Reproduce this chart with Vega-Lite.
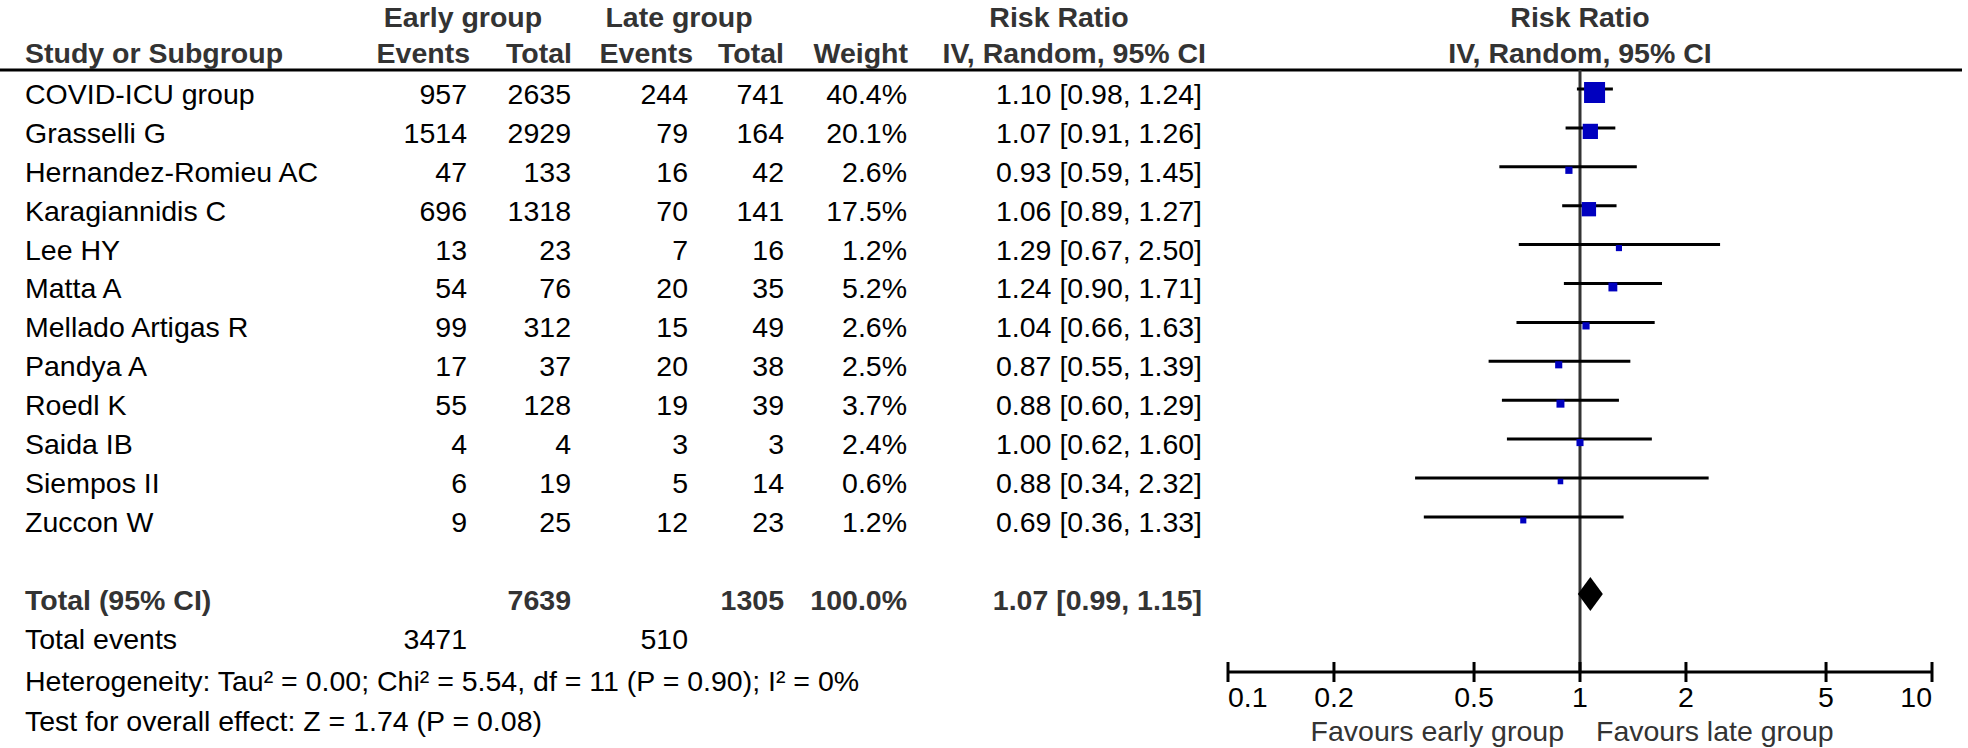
{
  "$schema": "https://vega.github.io/schema/vega-lite/v6.json",
  "width": 1968,
  "height": 748,
  "autosize": "none",
  "padding": 0,
  "background": "white",
  "config": {
    "view": {"stroke": null},
    "axis": {"disable": true},
    "font": "Liberation Sans",
    "text": {"font": "Liberation Sans", "fontSize": 28.5, "baseline": "middle", "color": "#000000"}
  },
  "datasets": {
    "studies": [
      {"study": "COVID-ICU group", "e_ev": 957, "e_tot": 2635, "l_ev": 244, "l_tot": 741, "weight": 0.404, "rr": 1.10, "lo": 0.98, "hi": 1.24},
      {"study": "Grasselli G", "e_ev": 1514, "e_tot": 2929, "l_ev": 79, "l_tot": 164, "weight": 0.201, "rr": 1.07, "lo": 0.91, "hi": 1.26},
      {"study": "Hernandez-Romieu AC", "e_ev": 47, "e_tot": 133, "l_ev": 16, "l_tot": 42, "weight": 0.026, "rr": 0.93, "lo": 0.59, "hi": 1.45},
      {"study": "Karagiannidis C", "e_ev": 696, "e_tot": 1318, "l_ev": 70, "l_tot": 141, "weight": 0.175, "rr": 1.06, "lo": 0.89, "hi": 1.27},
      {"study": "Lee HY", "e_ev": 13, "e_tot": 23, "l_ev": 7, "l_tot": 16, "weight": 0.012, "rr": 1.29, "lo": 0.67, "hi": 2.50},
      {"study": "Matta A", "e_ev": 54, "e_tot": 76, "l_ev": 20, "l_tot": 35, "weight": 0.052, "rr": 1.24, "lo": 0.90, "hi": 1.71},
      {"study": "Mellado Artigas R", "e_ev": 99, "e_tot": 312, "l_ev": 15, "l_tot": 49, "weight": 0.026, "rr": 1.04, "lo": 0.66, "hi": 1.63},
      {"study": "Pandya A", "e_ev": 17, "e_tot": 37, "l_ev": 20, "l_tot": 38, "weight": 0.025, "rr": 0.87, "lo": 0.55, "hi": 1.39},
      {"study": "Roedl K", "e_ev": 55, "e_tot": 128, "l_ev": 19, "l_tot": 39, "weight": 0.037, "rr": 0.88, "lo": 0.60, "hi": 1.29},
      {"study": "Saida IB", "e_ev": 4, "e_tot": 4, "l_ev": 3, "l_tot": 3, "weight": 0.024, "rr": 1.00, "lo": 0.62, "hi": 1.60},
      {"study": "Siempos II", "e_ev": 6, "e_tot": 19, "l_ev": 5, "l_tot": 14, "weight": 0.006, "rr": 0.88, "lo": 0.34, "hi": 2.32},
      {"study": "Zuccon W", "e_ev": 9, "e_tot": 25, "l_ev": 12, "l_tot": 23, "weight": 0.012, "rr": 0.69, "lo": 0.36, "hi": 1.33}
    ],
    "total": [
      {"study": "Total (95% CI)", "e_ev": 3471, "e_tot": 7639, "l_ev": 510, "l_tot": 1305, "weight": 1.0, "rr": 1.07, "lo": 0.99, "hi": 1.15}
    ],
    "ticks": [{"t": 0.1}, {"t": 0.2}, {"t": 0.5}, {"t": 1}, {"t": 2}, {"t": 5}, {"t": 10}],
    "one": [{}]
  },
  "resolve": {"scale": {"x": "independent"}},
  "layer": [
    {
      "layer": [
        {
          "data": {"name": "one"},
          "mark": {"type": "rule", "strokeWidth": 3, "color": "#000000"},
          "encoding": {
            "x": {"datum": -1, "scale": {"domain": [-1, 0, 1, 2, 3, 4, 5, 6, 7], "range": [0, 25, 467, 571, 688, 784, 907, 1202, 1962], "zero": false, "nice": false}},
            "x2": {"datum": 7},
            "y": {"datum": 0.357, "scale": {"domain": [-1.442, 17.787], "reverse": true, "zero": false, "nice": false}}
          }
        },
        {
          "data": {"name": "studies"},
          "transform": [{"window": [{"op": "row_number", "as": "row"}]}],
          "mark": {"type": "text", "align": "left"},
          "encoding": {
            "x": {"datum": 0, "scale": {"domain": [-1, 0, 1, 2, 3, 4, 5, 6, 7], "range": [0, 25, 467, 571, 688, 784, 907, 1202, 1962], "zero": false, "nice": false}},
            "y": {"field": "row", "type": "quantitative", "scale": {"domain": [-1.442, 17.787], "reverse": true, "zero": false, "nice": false}},
            "text": {"field": "study"}
          }
        },
        {
          "data": {"name": "studies"},
          "transform": [{"window": [{"op": "row_number", "as": "row"}]}],
          "mark": {"type": "text", "align": "right"},
          "encoding": {
            "x": {"datum": 1, "scale": {"domain": [-1, 0, 1, 2, 3, 4, 5, 6, 7], "range": [0, 25, 467, 571, 688, 784, 907, 1202, 1962], "zero": false, "nice": false}},
            "y": {"field": "row", "type": "quantitative", "scale": {"domain": [-1.442, 17.787], "reverse": true, "zero": false, "nice": false}},
            "text": {"field": "e_ev", "type": "quantitative", "format": "d"}
          }
        },
        {
          "data": {"name": "studies"},
          "transform": [{"window": [{"op": "row_number", "as": "row"}]}],
          "mark": {"type": "text", "align": "right"},
          "encoding": {
            "x": {"datum": 2, "scale": {"domain": [-1, 0, 1, 2, 3, 4, 5, 6, 7], "range": [0, 25, 467, 571, 688, 784, 907, 1202, 1962], "zero": false, "nice": false}},
            "y": {"field": "row", "type": "quantitative", "scale": {"domain": [-1.442, 17.787], "reverse": true, "zero": false, "nice": false}},
            "text": {"field": "e_tot", "type": "quantitative", "format": "d"}
          }
        },
        {
          "data": {"name": "studies"},
          "transform": [{"window": [{"op": "row_number", "as": "row"}]}],
          "mark": {"type": "text", "align": "right"},
          "encoding": {
            "x": {"datum": 3, "scale": {"domain": [-1, 0, 1, 2, 3, 4, 5, 6, 7], "range": [0, 25, 467, 571, 688, 784, 907, 1202, 1962], "zero": false, "nice": false}},
            "y": {"field": "row", "type": "quantitative", "scale": {"domain": [-1.442, 17.787], "reverse": true, "zero": false, "nice": false}},
            "text": {"field": "l_ev", "type": "quantitative", "format": "d"}
          }
        },
        {
          "data": {"name": "studies"},
          "transform": [{"window": [{"op": "row_number", "as": "row"}]}],
          "mark": {"type": "text", "align": "right"},
          "encoding": {
            "x": {"datum": 4, "scale": {"domain": [-1, 0, 1, 2, 3, 4, 5, 6, 7], "range": [0, 25, 467, 571, 688, 784, 907, 1202, 1962], "zero": false, "nice": false}},
            "y": {"field": "row", "type": "quantitative", "scale": {"domain": [-1.442, 17.787], "reverse": true, "zero": false, "nice": false}},
            "text": {"field": "l_tot", "type": "quantitative", "format": "d"}
          }
        },
        {
          "data": {"name": "studies"},
          "transform": [{"window": [{"op": "row_number", "as": "row"}]}],
          "mark": {"type": "text", "align": "right"},
          "encoding": {
            "x": {"datum": 5, "scale": {"domain": [-1, 0, 1, 2, 3, 4, 5, 6, 7], "range": [0, 25, 467, 571, 688, 784, 907, 1202, 1962], "zero": false, "nice": false}},
            "y": {"field": "row", "type": "quantitative", "scale": {"domain": [-1.442, 17.787], "reverse": true, "zero": false, "nice": false}},
            "text": {"field": "weight", "type": "quantitative", "format": ".1%"}
          }
        },
        {
          "data": {"name": "studies"},
          "transform": [
            {"window": [{"op": "row_number", "as": "row"}]},
            {"calculate": "format(datum.rr, '.2f') + ' [' + format(datum.lo, '.2f') + ', ' + format(datum.hi, '.2f') + ']'", "as": "ci"}
          ],
          "mark": {"type": "text", "align": "right"},
          "encoding": {
            "x": {"datum": 6, "scale": {"domain": [-1, 0, 1, 2, 3, 4, 5, 6, 7], "range": [0, 25, 467, 571, 688, 784, 907, 1202, 1962], "zero": false, "nice": false}},
            "y": {"field": "row", "type": "quantitative", "scale": {"domain": [-1.442, 17.787], "reverse": true, "zero": false, "nice": false}},
            "text": {"field": "ci"}
          }
        },
        {
          "data": {"name": "one"},
          "mark": {"type": "text", "align": "center", "fontWeight": "bold", "color": "#333333", "dx": -4},
          "encoding": {
            "x": {"datum": 1, "scale": {"domain": [-1, 0, 1, 2, 3, 4, 5, 6, 7], "range": [0, 25, 467, 571, 688, 784, 907, 1202, 1962], "zero": false, "nice": false}},
            "y": {"datum": -0.979, "scale": {"domain": [-1.442, 17.787], "reverse": true, "zero": false, "nice": false}},
            "text": {"value": "Early group"}
          }
        },
        {
          "data": {"name": "one"},
          "mark": {"type": "text", "align": "center", "fontWeight": "bold", "color": "#333333", "dx": -9},
          "encoding": {
            "x": {"datum": 3, "scale": {"domain": [-1, 0, 1, 2, 3, 4, 5, 6, 7], "range": [0, 25, 467, 571, 688, 784, 907, 1202, 1962], "zero": false, "nice": false}},
            "y": {"datum": -0.979, "scale": {"domain": [-1.442, 17.787], "reverse": true, "zero": false, "nice": false}},
            "text": {"value": "Late group"}
          }
        },
        {
          "data": {"name": "one"},
          "mark": {"type": "text", "align": "center", "fontWeight": "bold", "color": "#333333", "dx": -143},
          "encoding": {
            "x": {"datum": 6, "scale": {"domain": [-1, 0, 1, 2, 3, 4, 5, 6, 7], "range": [0, 25, 467, 571, 688, 784, 907, 1202, 1962], "zero": false, "nice": false}},
            "y": {"datum": -0.979, "scale": {"domain": [-1.442, 17.787], "reverse": true, "zero": false, "nice": false}},
            "text": {"value": "Risk Ratio"}
          }
        },
        {
          "data": {"name": "one"},
          "mark": {"type": "text", "align": "left", "fontWeight": "bold", "color": "#333333"},
          "encoding": {
            "x": {"datum": 0, "scale": {"domain": [-1, 0, 1, 2, 3, 4, 5, 6, 7], "range": [0, 25, 467, 571, 688, 784, 907, 1202, 1962], "zero": false, "nice": false}},
            "y": {"datum": -0.054, "scale": {"domain": [-1.442, 17.787], "reverse": true, "zero": false, "nice": false}},
            "text": {"value": "Study or Subgroup"}
          }
        },
        {
          "data": {"name": "one"},
          "mark": {"type": "text", "align": "right", "fontWeight": "bold", "color": "#333333", "dx": 3},
          "encoding": {
            "x": {"datum": 1, "scale": {"domain": [-1, 0, 1, 2, 3, 4, 5, 6, 7], "range": [0, 25, 467, 571, 688, 784, 907, 1202, 1962], "zero": false, "nice": false}},
            "y": {"datum": -0.054, "scale": {"domain": [-1.442, 17.787], "reverse": true, "zero": false, "nice": false}},
            "text": {"value": "Events"}
          }
        },
        {
          "data": {"name": "one"},
          "mark": {"type": "text", "align": "right", "fontWeight": "bold", "color": "#333333", "dx": 1},
          "encoding": {
            "x": {"datum": 2, "scale": {"domain": [-1, 0, 1, 2, 3, 4, 5, 6, 7], "range": [0, 25, 467, 571, 688, 784, 907, 1202, 1962], "zero": false, "nice": false}},
            "y": {"datum": -0.054, "scale": {"domain": [-1.442, 17.787], "reverse": true, "zero": false, "nice": false}},
            "text": {"value": "Total"}
          }
        },
        {
          "data": {"name": "one"},
          "mark": {"type": "text", "align": "right", "fontWeight": "bold", "color": "#333333", "dx": 5},
          "encoding": {
            "x": {"datum": 3, "scale": {"domain": [-1, 0, 1, 2, 3, 4, 5, 6, 7], "range": [0, 25, 467, 571, 688, 784, 907, 1202, 1962], "zero": false, "nice": false}},
            "y": {"datum": -0.054, "scale": {"domain": [-1.442, 17.787], "reverse": true, "zero": false, "nice": false}},
            "text": {"value": "Events"}
          }
        },
        {
          "data": {"name": "one"},
          "mark": {"type": "text", "align": "right", "fontWeight": "bold", "color": "#333333"},
          "encoding": {
            "x": {"datum": 4, "scale": {"domain": [-1, 0, 1, 2, 3, 4, 5, 6, 7], "range": [0, 25, 467, 571, 688, 784, 907, 1202, 1962], "zero": false, "nice": false}},
            "y": {"datum": -0.054, "scale": {"domain": [-1.442, 17.787], "reverse": true, "zero": false, "nice": false}},
            "text": {"value": "Total"}
          }
        },
        {
          "data": {"name": "one"},
          "mark": {"type": "text", "align": "right", "fontWeight": "bold", "color": "#333333", "dx": 1},
          "encoding": {
            "x": {"datum": 5, "scale": {"domain": [-1, 0, 1, 2, 3, 4, 5, 6, 7], "range": [0, 25, 467, 571, 688, 784, 907, 1202, 1962], "zero": false, "nice": false}},
            "y": {"datum": -0.054, "scale": {"domain": [-1.442, 17.787], "reverse": true, "zero": false, "nice": false}},
            "text": {"value": "Weight"}
          }
        },
        {
          "data": {"name": "one"},
          "mark": {"type": "text", "align": "right", "fontWeight": "bold", "color": "#333333", "dx": 4},
          "encoding": {
            "x": {"datum": 6, "scale": {"domain": [-1, 0, 1, 2, 3, 4, 5, 6, 7], "range": [0, 25, 467, 571, 688, 784, 907, 1202, 1962], "zero": false, "nice": false}},
            "y": {"datum": -0.054, "scale": {"domain": [-1.442, 17.787], "reverse": true, "zero": false, "nice": false}},
            "text": {"value": "IV, Random, 95% CI"}
          }
        },
        {
          "data": {"name": "total"},
          "mark": {"type": "text", "align": "left", "fontWeight": "bold", "color": "#333333"},
          "encoding": {
            "x": {"datum": 0, "scale": {"domain": [-1, 0, 1, 2, 3, 4, 5, 6, 7], "range": [0, 25, 467, 571, 688, 784, 907, 1202, 1962], "zero": false, "nice": false}},
            "y": {"datum": 14, "scale": {"domain": [-1.442, 17.787], "reverse": true, "zero": false, "nice": false}},
            "text": {"field": "study"}
          }
        },
        {
          "data": {"name": "total"},
          "mark": {"type": "text", "align": "right", "fontWeight": "bold", "color": "#333333"},
          "encoding": {
            "x": {"datum": 2, "scale": {"domain": [-1, 0, 1, 2, 3, 4, 5, 6, 7], "range": [0, 25, 467, 571, 688, 784, 907, 1202, 1962], "zero": false, "nice": false}},
            "y": {"datum": 14, "scale": {"domain": [-1.442, 17.787], "reverse": true, "zero": false, "nice": false}},
            "text": {"field": "e_tot", "type": "quantitative", "format": "d"}
          }
        },
        {
          "data": {"name": "total"},
          "mark": {"type": "text", "align": "right", "fontWeight": "bold", "color": "#333333"},
          "encoding": {
            "x": {"datum": 4, "scale": {"domain": [-1, 0, 1, 2, 3, 4, 5, 6, 7], "range": [0, 25, 467, 571, 688, 784, 907, 1202, 1962], "zero": false, "nice": false}},
            "y": {"datum": 14, "scale": {"domain": [-1.442, 17.787], "reverse": true, "zero": false, "nice": false}},
            "text": {"field": "l_tot", "type": "quantitative", "format": "d"}
          }
        },
        {
          "data": {"name": "total"},
          "mark": {"type": "text", "align": "right", "fontWeight": "bold", "color": "#333333"},
          "encoding": {
            "x": {"datum": 5, "scale": {"domain": [-1, 0, 1, 2, 3, 4, 5, 6, 7], "range": [0, 25, 467, 571, 688, 784, 907, 1202, 1962], "zero": false, "nice": false}},
            "y": {"datum": 14, "scale": {"domain": [-1.442, 17.787], "reverse": true, "zero": false, "nice": false}},
            "text": {"field": "weight", "type": "quantitative", "format": ".1%"}
          }
        },
        {
          "data": {"name": "total"},
          "transform": [
            {"calculate": "format(datum.rr, '.2f') + ' [' + format(datum.lo, '.2f') + ', ' + format(datum.hi, '.2f') + ']'", "as": "ci"}
          ],
          "mark": {"type": "text", "align": "right", "fontWeight": "bold", "color": "#333333"},
          "encoding": {
            "x": {"datum": 6, "scale": {"domain": [-1, 0, 1, 2, 3, 4, 5, 6, 7], "range": [0, 25, 467, 571, 688, 784, 907, 1202, 1962], "zero": false, "nice": false}},
            "y": {"datum": 14, "scale": {"domain": [-1.442, 17.787], "reverse": true, "zero": false, "nice": false}},
            "text": {"field": "ci"}
          }
        },
        {
          "data": {"name": "total"},
          "mark": {"type": "text", "align": "left"},
          "encoding": {
            "x": {"datum": 0, "scale": {"domain": [-1, 0, 1, 2, 3, 4, 5, 6, 7], "range": [0, 25, 467, 571, 688, 784, 907, 1202, 1962], "zero": false, "nice": false}},
            "y": {"datum": 15, "scale": {"domain": [-1.442, 17.787], "reverse": true, "zero": false, "nice": false}},
            "text": {"value": "Total events"}
          }
        },
        {
          "data": {"name": "total"},
          "mark": {"type": "text", "align": "right"},
          "encoding": {
            "x": {"datum": 1, "scale": {"domain": [-1, 0, 1, 2, 3, 4, 5, 6, 7], "range": [0, 25, 467, 571, 688, 784, 907, 1202, 1962], "zero": false, "nice": false}},
            "y": {"datum": 15, "scale": {"domain": [-1.442, 17.787], "reverse": true, "zero": false, "nice": false}},
            "text": {"field": "e_ev", "type": "quantitative", "format": "d"}
          }
        },
        {
          "data": {"name": "total"},
          "mark": {"type": "text", "align": "right"},
          "encoding": {
            "x": {"datum": 3, "scale": {"domain": [-1, 0, 1, 2, 3, 4, 5, 6, 7], "range": [0, 25, 467, 571, 688, 784, 907, 1202, 1962], "zero": false, "nice": false}},
            "y": {"datum": 15, "scale": {"domain": [-1.442, 17.787], "reverse": true, "zero": false, "nice": false}},
            "text": {"field": "l_ev", "type": "quantitative", "format": "d"}
          }
        },
        {
          "data": {"name": "one"},
          "mark": {"type": "text", "align": "left"},
          "encoding": {
            "x": {"datum": 0, "scale": {"domain": [-1, 0, 1, 2, 3, 4, 5, 6, 7], "range": [0, 25, 467, 571, 688, 784, 907, 1202, 1962], "zero": false, "nice": false}},
            "y": {"datum": 16.08, "scale": {"domain": [-1.442, 17.787], "reverse": true, "zero": false, "nice": false}},
            "text": {"value": "Heterogeneity: Tau² = 0.00; Chi² = 5.54, df = 11 (P = 0.90); I² = 0%"}
          }
        },
        {
          "data": {"name": "one"},
          "mark": {"type": "text", "align": "left"},
          "encoding": {
            "x": {"datum": 0, "scale": {"domain": [-1, 0, 1, 2, 3, 4, 5, 6, 7], "range": [0, 25, 467, 571, 688, 784, 907, 1202, 1962], "zero": false, "nice": false}},
            "y": {"datum": 17.11, "scale": {"domain": [-1.442, 17.787], "reverse": true, "zero": false, "nice": false}},
            "text": {"value": "Test for overall effect: Z = 1.74 (P = 0.08)"}
          }
        }
      ]
    },
    {
      "layer": [
        {
          "data": {"name": "one"},
          "mark": {"type": "rule", "strokeWidth": 3, "color": "#333333"},
          "encoding": {
            "x": {"datum": 1, "scale": {"type": "log", "domain": [0.1, 10], "range": [1228, 1932], "nice": false}},
            "y": {"datum": 0.357, "scale": {"domain": [-1.442, 17.787], "reverse": true, "zero": false, "nice": false}},
            "y2": {"datum": 15.833}
          }
        },
        {
          "data": {"name": "studies"},
          "transform": [{"window": [{"op": "row_number", "as": "row"}]}],
          "mark": {"type": "rule", "strokeWidth": 3, "color": "#000000", "yOffset": -6},
          "encoding": {
            "x": {"field": "lo", "type": "quantitative", "scale": {"type": "log", "domain": [0.1, 10], "range": [1228, 1932], "nice": false}},
            "x2": {"field": "hi"},
            "y": {"field": "row", "type": "quantitative", "scale": {"domain": [-1.442, 17.787], "reverse": true, "zero": false, "nice": false}}
          }
        },
        {
          "data": {"name": "studies"},
          "transform": [{"window": [{"op": "row_number", "as": "row"}]}],
          "mark": {"type": "point", "shape": "square", "filled": true, "opacity": 1, "color": "#0000BF", "strokeWidth": 0, "yOffset": -2.5},
          "encoding": {
            "x": {"field": "rr", "type": "quantitative", "scale": {"type": "log", "domain": [0.1, 10], "range": [1228, 1932], "nice": false}},
            "y": {"field": "row", "type": "quantitative", "scale": {"domain": [-1.442, 17.787], "reverse": true, "zero": false, "nice": false}},
            "size": {"field": "weight", "type": "quantitative", "scale": {"type": "linear", "domain": [0, 0.404], "range": [25, 441], "zero": false}, "legend": null}
          }
        },
        {
          "data": {"name": "total"},
          "mark": {"type": "point", "shape": "M0,-1L0.735,0L0,1L-0.735,0Z", "filled": true, "opacity": 1, "color": "#000000", "strokeWidth": 0, "size": 1156, "yOffset": -6.6},
          "encoding": {
            "x": {"field": "rr", "type": "quantitative", "scale": {"type": "log", "domain": [0.1, 10], "range": [1228, 1932], "nice": false}},
            "y": {"datum": 14, "scale": {"domain": [-1.442, 17.787], "reverse": true, "zero": false, "nice": false}}
          }
        },
        {
          "data": {"name": "one"},
          "mark": {"type": "rule", "strokeWidth": 3, "color": "#000000"},
          "encoding": {
            "x": {"datum": 0.1, "scale": {"type": "log", "domain": [0.1, 10], "range": [1228, 1932], "nice": false}},
            "x2": {"datum": 10},
            "y": {"datum": 15.833, "scale": {"domain": [-1.442, 17.787], "reverse": true, "zero": false, "nice": false}}
          }
        },
        {
          "data": {"name": "ticks"},
          "mark": {"type": "rule", "strokeWidth": 3, "color": "#000000"},
          "encoding": {
            "x": {"field": "t", "type": "quantitative", "scale": {"type": "log", "domain": [0.1, 10], "range": [1228, 1932], "nice": false}},
            "y": {"datum": 15.576, "scale": {"domain": [-1.442, 17.787], "reverse": true, "zero": false, "nice": false}},
            "y2": {"datum": 16.09}
          }
        },
        {
          "data": {"name": "ticks"},
          "transform": [{"filter": "datum.t > 0.1 && datum.t < 10"}],
          "mark": {"type": "text", "align": "center"},
          "encoding": {
            "x": {"field": "t", "type": "quantitative", "scale": {"type": "log", "domain": [0.1, 10], "range": [1228, 1932], "nice": false}},
            "y": {"datum": 16.5, "scale": {"domain": [-1.442, 17.787], "reverse": true, "zero": false, "nice": false}},
            "text": {"field": "t", "type": "quantitative", "format": "~g"}
          }
        },
        {
          "data": {"name": "ticks"},
          "transform": [{"filter": "datum.t <= 0.1"}],
          "mark": {"type": "text", "align": "left"},
          "encoding": {
            "x": {"field": "t", "type": "quantitative", "scale": {"type": "log", "domain": [0.1, 10], "range": [1228, 1932], "nice": false}},
            "y": {"datum": 16.5, "scale": {"domain": [-1.442, 17.787], "reverse": true, "zero": false, "nice": false}},
            "text": {"field": "t", "type": "quantitative", "format": "~g"}
          }
        },
        {
          "data": {"name": "ticks"},
          "transform": [{"filter": "datum.t >= 10"}],
          "mark": {"type": "text", "align": "right"},
          "encoding": {
            "x": {"field": "t", "type": "quantitative", "scale": {"type": "log", "domain": [0.1, 10], "range": [1228, 1932], "nice": false}},
            "y": {"datum": 16.5, "scale": {"domain": [-1.442, 17.787], "reverse": true, "zero": false, "nice": false}},
            "text": {"field": "t", "type": "quantitative", "format": "~g"}
          }
        },
        {
          "data": {"name": "one"},
          "mark": {"type": "text", "align": "right", "dx": -16, "color": "#333333"},
          "encoding": {
            "x": {"datum": 1, "scale": {"type": "log", "domain": [0.1, 10], "range": [1228, 1932], "nice": false}},
            "y": {"datum": 17.375, "scale": {"domain": [-1.442, 17.787], "reverse": true, "zero": false, "nice": false}},
            "text": {"value": "Favours early group"}
          }
        },
        {
          "data": {"name": "one"},
          "mark": {"type": "text", "align": "left", "dx": 16, "color": "#333333"},
          "encoding": {
            "x": {"datum": 1, "scale": {"type": "log", "domain": [0.1, 10], "range": [1228, 1932], "nice": false}},
            "y": {"datum": 17.375, "scale": {"domain": [-1.442, 17.787], "reverse": true, "zero": false, "nice": false}},
            "text": {"value": "Favours late group"}
          }
        },
        {
          "data": {"name": "one"},
          "mark": {"type": "text", "align": "center", "fontWeight": "bold", "color": "#333333"},
          "encoding": {
            "x": {"datum": 1, "scale": {"type": "log", "domain": [0.1, 10], "range": [1228, 1932], "nice": false}},
            "y": {"datum": -0.979, "scale": {"domain": [-1.442, 17.787], "reverse": true, "zero": false, "nice": false}},
            "text": {"value": "Risk Ratio"}
          }
        },
        {
          "data": {"name": "one"},
          "mark": {"type": "text", "align": "center", "fontWeight": "bold", "color": "#333333"},
          "encoding": {
            "x": {"datum": 1, "scale": {"type": "log", "domain": [0.1, 10], "range": [1228, 1932], "nice": false}},
            "y": {"datum": -0.054, "scale": {"domain": [-1.442, 17.787], "reverse": true, "zero": false, "nice": false}},
            "text": {"value": "IV, Random, 95% CI"}
          }
        }
      ]
    }
  ]
}
